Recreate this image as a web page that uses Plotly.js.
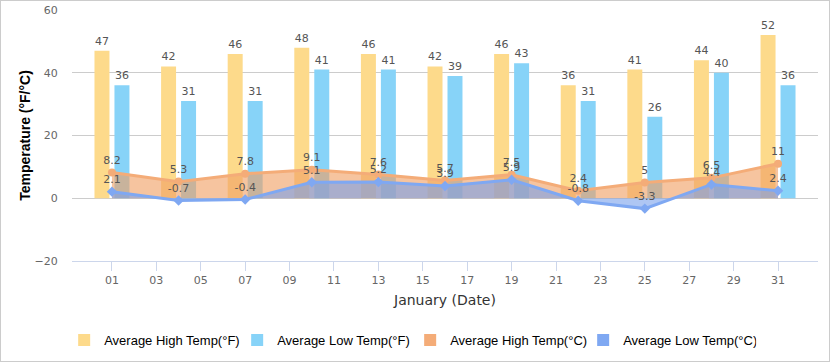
<!DOCTYPE html>
<html>
<head>
<meta charset="utf-8">
<script src="https://cdn.plot.ly/plotly-3.0.1.min.js"></script>
<style>
  html, body { margin: 0; padding: 0; background: #fff; }
  #wrap { position: relative; width: 830px; height: 362px; }
  #chart { width: 830px; height: 362px; }
  #frame { position: absolute; left: 0; top: 0; width: 828px; height: 360px; border: 1px solid #cccccc; pointer-events: none; }
</style>
</head>
<body>
<div id="wrap"><div id="chart"></div><div id="frame"></div></div>
<script>
const days = [1, 4, 7, 10, 13, 16, 19, 22, 25, 28, 31];
const highF = [47, 42, 46, 48, 46, 42, 46, 36, 41, 44, 52];
const lowF = [36, 31, 31, 41, 41, 39, 43, 31, 26, 40, 36];
const highC = [8.2, 5.3, 7.8, 9.1, 7.6, 5.7, 7.5, 2.4, 5, 6.5, 11];
const lowC = [2.1, -0.7, -0.4, 5.1, 5.2, 3.9, 5.9, -0.8, -3.3, 4.4, 2.4];
const tickVals = [1, 3, 5, 7, 9, 11, 13, 15, 17, 19, 21, 23, 25, 27, 29, 31];
const tickText = ['01', '03', '05', '07', '09', '11', '13', '15', '17', '19', '21', '23', '25', '27', '29', '31'];
const names = ['Average High Temp(°F)', 'Average Low Temp(°F)', 'Average High Temp(°C)', 'Average Low Temp(°C)'];

const cHighF = '#FDDA8B', cLowF = '#87D3F8', cHighC = '#F4AC78', cLowC = '#7FA8F2';
const labelFont = { family: 'DejaVu Sans, sans-serif', size: 11, color: '#555555' };

const traces = [
  { type: 'bar', x: days, y: highF, name: names[0], width: 0.675, offset: -0.7875,
    marker: { color: cHighF }, text: highF.map(String), textposition: 'outside',
    textfont: labelFont, cliponaxis: false, hoverinfo: 'y' },
  { type: 'bar', x: days, y: lowF, name: names[1], width: 0.675, offset: 0.1125,
    marker: { color: cLowF }, text: lowF.map(String), textposition: 'outside',
    textfont: labelFont, cliponaxis: false, hoverinfo: 'y' },
  { type: 'scatter', mode: 'lines+markers+text', x: days, y: highC, name: names[2],
    showlegend: false, legendgroup: 'hc',
    line: { color: cHighC, width: 3 }, marker: { color: cHighC, size: 8, symbol: 'circle' },
    fill: 'tozeroy', fillcolor: 'rgba(240,160,100,0.62)',
    text: highC.map(String), textposition: 'top center', textfont: labelFont, cliponaxis: false },
  { type: 'scatter', mode: 'lines+markers+text', x: days, y: lowC, name: names[3],
    showlegend: false, legendgroup: 'lc',
    line: { color: cLowC, width: 3 }, marker: { color: cLowC, size: 8, symbol: 'diamond' },
    fill: 'tozeroy', fillcolor: 'rgba(120,160,235,0.6)',
    text: lowC.map(String), textposition: 'top center', textfont: labelFont, cliponaxis: false },
  { type: 'bar', x: [null], y: [null], name: names[2], legendgroup: 'hc', marker: { color: cHighC } },
  { type: 'bar', x: [null], y: [null], name: names[3], legendgroup: 'lc', marker: { color: cLowC } }
];

const layout = {
  width: 830, height: 362,
  margin: { l: 72, r: 12, t: 10, b: 101, autoexpand: false },
  paper_bgcolor: '#ffffff', plot_bgcolor: '#ffffff',
  barmode: 'overlay',
  showlegend: true,
  legend: { orientation: 'h', x: -0.0105, xanchor: 'left', y: -0.315, yanchor: 'middle',
    entrywidth: 128, entrywidthmode: 'pixels',
    font: { family: 'Liberation Sans, Arial, sans-serif', size: 13, color: '#000000' },
    traceorder: 'normal' },
  xaxis: {
    range: [-0.8, 32.8], tickmode: 'array', tickvals: tickVals, ticktext: tickText,
    showgrid: false, zeroline: false, showline: true, linecolor: '#ccd6eb', linewidth: 1,
    ticks: 'outside', ticklen: 9, tickcolor: '#ccd6eb',
    tickfont: { family: 'DejaVu Sans, sans-serif', size: 11, color: '#666666' },
    title: { text: 'January (Date)', standoff: 8,
      font: { family: 'DejaVu Sans, sans-serif', size: 14, color: '#333333' } }
  },
  yaxis: {
    range: [-20, 60], dtick: 20, tick0: 0,
    showgrid: true, gridcolor: '#cccccc', gridwidth: 1, zeroline: false, showline: false,
    ticks: 'outside', ticklen: 11, tickcolor: 'rgba(0,0,0,0)',
    tickfont: { family: 'DejaVu Sans, sans-serif', size: 11, color: '#666666' },
    title: { text: 'Temperature (°F/°C)', standoff: 0,
      font: { family: 'Liberation Sans, Arial, sans-serif', size: 14, color: '#000000', weight: 'bold' } }
  }
};

Plotly.newPlot('chart', traces, layout, { displayModeBar: false, staticPlot: true });
</script>
</body>
</html>
